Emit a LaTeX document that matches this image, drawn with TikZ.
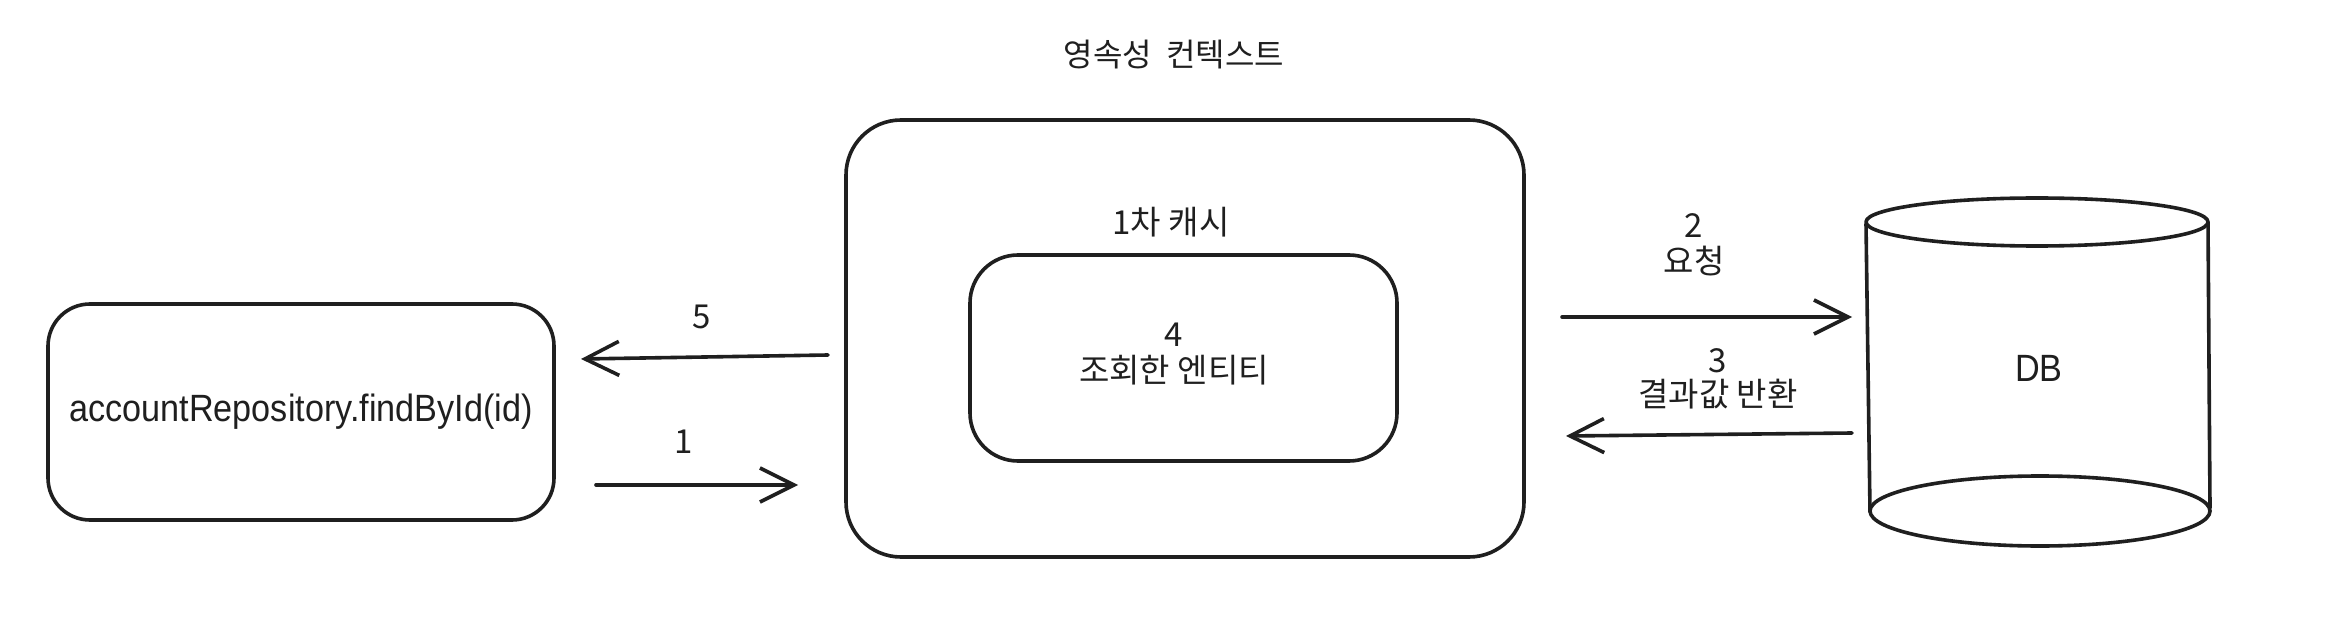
\documentclass[tikz,border=0pt]{standalone}
\usepackage{fontspec}
\setmainfont{Liberation Sans}
\newfontfamily\hv[FakeStretch=0.9]{Liberation Sans}
\newfontfamily\kr{Noto Sans CJK KR}
\usetikzlibrary{arrows.meta}
\begin{document}
\begin{tikzpicture}[x=1pt,y=-1pt,
  line width=3.6pt, line cap=round, line join=round, color={black!88},
  boxx/.style={draw, rounded corners=#1, inner sep=0pt},
  lbl/.style={font=\kr\fontsize{33}{40}\selectfont, inner sep=0pt, align=center},
  arr/.style={-{Straight Barb[length=34pt,width=34pt,line width=3.6pt]}}]
\useasboundingbox (0,0) rectangle (2348,644);
\fill[white] (0,0) rectangle (2348,644);

% title
\node[font=\kr\fontsize{32}{38}\selectfont, inner sep=0pt] (title) at (1174,55) {영속성\ \ 컨텍스트};

% boxes
\node[boxx=55pt, minimum width=678pt, minimum height=437pt] (ctx) at (1185,338.5) {};
\node[boxx=48pt, minimum width=427pt, minimum height=206pt, align=center] (ent) at (1183.5,358) {};
\node[lbl] (cache) at (1171,222) {1차 캐시};
\node[lbl] (entl) at (1174,354) {4\\[-4pt]조회한 엔티티};

\node[boxx=42pt, minimum width=506pt, minimum height=216pt,
      font=\hv\fontsize{38}{44}\selectfont] (repo) at (301,412) {accountRepository.findById(id)};

% DB cylinder
\draw (2037,222) ellipse [x radius=171pt, y radius=24pt];
\draw (2040,511) ellipse [x radius=170pt, y radius=35pt];
\draw (1866,224) -- (1870,512);
\draw (2208,222) -- (2210,508);
\node[font=\hv\fontsize{38}{44}\selectfont, inner sep=0pt] (db) at (2039,368) {DB};

% arrow endpoints
\coordinate (a5s) at (828,355);
\coordinate (a5e) at (581,359);
\coordinate (a1s) at (596,485);
\coordinate (a1e) at (798,485);
\coordinate (a2s) at (1562,317);
\coordinate (a2e) at (1852,317);
\coordinate (a3s) at (1852,433);
\coordinate (a3e) at (1566,436);

\draw[arr] (a5s) -- (a5e);
\draw[arr] (a1s) -- (a1e);
\draw[arr] (a2s) -- (a2e);
\draw[arr] (a3s) -- (a3e);

% labels
\node[lbl] (l5) at (702,317) {5};
\node[lbl] (l1) at (684,442) {1};
\node[lbl] (l2) at (1694,245) {2\\[-4pt]요청};
\node[lbl] (l3) at (1718,379) {3\\[-6pt]결과값 반환};
\end{tikzpicture}
\end{document}
